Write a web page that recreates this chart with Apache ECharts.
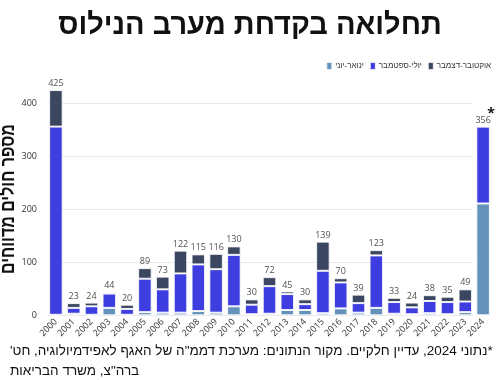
<!DOCTYPE html>
<html>
<head>
<meta charset="utf-8">
<script src="https://cdn.jsdelivr.net/npm/echarts@6/dist/echarts.min.js"></script>
<style>
html,body{margin:0;padding:0;background:#fff;}
#chart{width:500px;height:380px;}
</style>
</head>
<body>
<div id="chart"></div>
<script>
const years = ['2000','2001','2002','2003','2004','2005','2006','2007','2008','2009','2010','2011','2012','2013','2014','2015','2016','2017','2018','2019','2020','2021','2022','2023','2024'];
const janJun = [1,3,1,14,1,6,5,5,8,5,17,2,3,10,10,4,13,5,14,3,2,4,2,6,211];
const julSep = [355,11,16,27,11,63,44,74,88,82,97,18,52,30,11,80,49,18,99,22,13,23,23,20,145];
const octDec = [69,9,7,3,8,20,24,43,19,29,16,10,17,5,9,55,8,16,10,8,9,11,10,23,0];
const seriesNames = ['ינואר-יוני','יולי-ספטמבר','אוקטובר-דצמבר'];
const yTicks = [0,100,200,300,400];
const titleText = 'תחלואה בקדחת מערב הנילוס';
const yTitle = 'מספר חולים מדווחים';
const note1 = '*נתוני 2024, עדיין חלקיים. מקור הנתונים: מערכת דממ"ה של האגף לאפידמיולוגיה, חט\'';
const note2 = 'ברה"צ, משרד הבריאות';

const RLM = '\u200F';
const rtl = s => RLM + s + RLM;
const totals = years.map((y,i)=>janJun[i]+julSep[i]+octDec[i]);
const colors = ['#6492bb','#3d3de0','#3b4660'];
const font = '"Open Sans", "DejaVu Sans", sans-serif';
const heb = '"Liberation Sans", "DejaVu Sans", sans-serif';

const chart = echarts.init(document.getElementById('chart'));
const barBase = {
  type:'bar', stack:'t', xAxisIndex:0, yAxisIndex:0, barCategoryGap:'24%',
  itemStyle:{borderColor:'rgba(255,255,255,0.85)', borderWidth:1}
};
chart.setOption({
  animation:false,
  textStyle:{fontFamily:font},
  title:{text:titleText, left:'center', top:6, textStyle:{fontFamily:heb, fontSize:29, fontWeight:'bold', color:'#111'}},
  legend:{data:seriesNames, right:4, top:56, itemWidth:6, itemHeight:8, itemGap:5, icon:'rect',
    textStyle:{fontFamily:heb, fontSize:8, color:'#333', padding:[0,0,0,-2]}},
  grid:[
    {left:47, right:8, top:76.8, height:238.5},
    {left:47, right:27, top:103.3, height:212}
  ],
  xAxis:[
    {type:'category', gridIndex:0, data:years, axisTick:{show:false}, axisLine:{show:false},
      axisLabel:{rotate:45, fontSize:9, color:'#333', margin:5, interval:0}},
    {type:'value', gridIndex:1, show:false, min:0, max:1}
  ],
  yAxis:[
    {type:'value', gridIndex:0, min:0, max:450, show:false, splitLine:{show:false}},
    {type:'value', gridIndex:1, min:yTicks[0], max:yTicks[yTicks.length-1], interval:100,
      axisLine:{show:false}, axisTick:{show:false},
      axisLabel:{fontSize:9, color:'#333', margin:10},
      splitLine:{lineStyle:{color:'#e8e8e8', width:1}}}
  ],
  series:[
    Object.assign({}, barBase, {name:seriesNames[0], data:janJun, itemStyle:Object.assign({color:colors[0]}, barBase.itemStyle), z:3}),
    Object.assign({}, barBase, {name:seriesNames[1], data:julSep, itemStyle:Object.assign({color:colors[1]}, barBase.itemStyle), z:3}),
    Object.assign({}, barBase, {name:seriesNames[2], data:octDec, itemStyle:Object.assign({color:colors[2]}, barBase.itemStyle), z:3}),
    {type:'scatter', xAxisIndex:0, yAxisIndex:0, data:totals, symbolSize:0, silent:true,
      label:{show:true, position:'top', distance:2, fontSize:9, color:'#222', fontFamily:font}, z:5}
  ],
  graphic:[
    {type:'text', x:9, y:199, rotation:Math.PI/2, scaleX:0.84,
      style:{text:yTitle, font:'bold 19px '+heb, fill:'#111', textAlign:'center', textVerticalAlign:'middle'}},
    {type:'text', x:491, y:114,
      style:{text:'*', font:'bold 14px '+font, fill:'#111', textAlign:'center', textVerticalAlign:'middle'}},
    {type:'text', x:10, y:351,
      style:{text:rtl(note1), font:'13.5px '+heb, fill:'#111', textAlign:'left', textVerticalAlign:'middle'}},
    {type:'text', x:10, y:371,
      style:{text:rtl(note2), font:'13.5px '+heb, fill:'#111', textAlign:'left', textVerticalAlign:'middle'}}
  ]
});
</script>
</body>
</html>
